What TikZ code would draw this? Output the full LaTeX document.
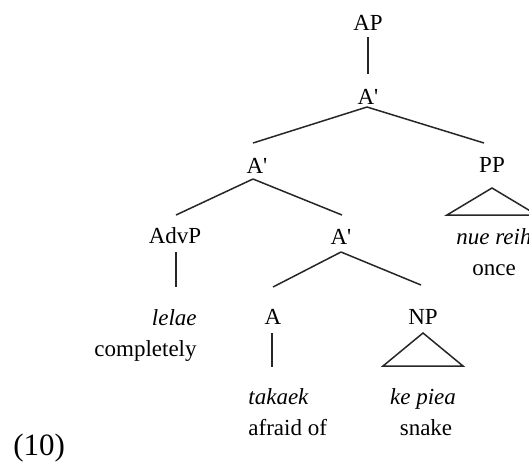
\documentclass[tikz,border=0pt]{standalone}
\usepackage{fontspec}
\setmainfont{Liberation Serif}
\usetikzlibrary{calc}
\begin{document}
\begin{tikzpicture}[x=0.5pt,y=-0.5pt,
  lab/.style={inner sep=0pt,text height=7.5pt,text depth=0pt,font=\fontsize{11.5pt}{13pt}\selectfont},
  edge/.style={line width=0.75pt,draw=black!85}]
\useasboundingbox (0,0) rectangle (529,463);
\clip (0,0) rectangle (529,463);
% labels
\node[lab] (AP) at (368,23) {AP};
\node[lab] (A1) at (368,97) {A\textquotesingle};
\node[lab] (A2) at (257,166) {A\textquotesingle};
\node[lab] (PP) at (492,165) {PP};
\node[lab] (AdvP) at (175,236) {AdvP};
\node[lab] (A3) at (341,237) {A\textquotesingle};
\node[lab,anchor=west] (nue) at (456,237) {\itshape nue reih};
\node[lab] (once) at (494,268) {once};
\node[lab,anchor=east] (lelae) at (197,318) {\itshape lelae};
\node[lab,anchor=east] (compl) at (197,349) {completely};
\node[lab] (A) at (273,317) {A};
\node[lab] (NP) at (423,317) {NP};
\node[lab,anchor=west] (takaek) at (248,397) {\itshape takaek};
\node[lab,anchor=west] (afraid) at (248,428) {afraid of};
\node[lab] (kepiea) at (423,397) {\itshape ke piea};
\node[lab] (snake) at (426,428) {snake};
\node[lab,anchor=west,text height=10.5pt,font=\fontsize{15.5pt}{18pt}\selectfont] (num) at (13,445) {(10)};
% connectors
\draw[edge] ($(AP.center)+(0,14)$) -- ($(A1.center)+(0,-23)$);
\draw[edge] ($(A1.center)+(-1,10)$) -- ($(A2.center)+(-4,-23)$);
\draw[edge] ($(A1.center)+(-1,10)$) -- ($(PP.center)+(-8,-22)$);
\draw[edge] ($(A2.center)+(-4,13)$) -- ($(AdvP.center)+(1,-21)$);
\draw[edge] ($(A2.center)+(-4,13)$) -- ($(A3.center)+(1,-22)$);
\draw[edge] ($(AdvP.center)+(1,16)$) -- ($(AdvP.center |- lelae.center)+(1,-31)$);
\draw[edge] ($(A3.center)+(0,15)$) -- ($(A.center)+(0,-30)$);
\draw[edge] ($(A3.center)+(0,15)$) -- ($(NP.center)+(-2,-32)$);
\draw[edge] ($(A.center)+(-1,16)$) -- ($(A.center |- takaek.center)+(-1,-30)$);
% triangles
\draw[edge] ($(PP.center)+(0,23)$) -- ($(PP.center)+(-45,50)$) -- ($(PP.center)+(45,50)$) -- cycle;
\draw[edge] ($(NP.center)+(0,16)$) -- ($(NP.center)+(-40,49)$) -- ($(NP.center)+(40,49)$) -- cycle;
\end{tikzpicture}
\end{document}
